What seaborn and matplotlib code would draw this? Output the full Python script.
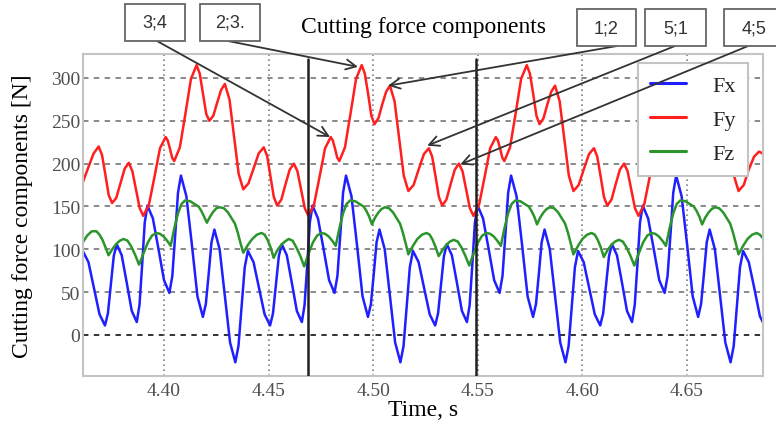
# plot.py
# Cutting force components Fx, Fy, Fz over time, redrawn with seaborn.

import pandas as pd
import matplotlib.pyplot as plt
import seaborn as sns
from matplotlib.patches import Rectangle

# Fx (blue) - time [s] and force [N]
fx_time = [
    4.3582, 4.3597, 4.3612, 4.3639, 4.3665, 4.3692, 4.3718, 4.3732, 4.3746, 4.3760,
    4.3774, 4.3798, 4.3822, 4.3846, 4.3870, 4.3883, 4.3896,
    4.3908, 4.3921, 4.3947, 4.3974, 4.4000, 4.4026, 4.4040, 4.4054, 4.4067, 4.4081,
    4.4107, 4.4134, 4.4160, 4.4186, 4.4200, 4.4214, 4.4227, 4.4241, 4.4266, 4.4291,
    4.4316, 4.4341, 4.4356, 4.4371, 4.4386, 4.4401, 4.4428, 4.4454, 4.4481, 4.4507,
    4.4521, 4.4535, 4.4549, 4.4563, 4.4587, 4.4611, 4.4635, 4.4659, 4.4672, 4.4685,
    4.4697, 4.4710, 4.4736, 4.4763, 4.4789, 4.4815, 4.4829, 4.4843, 4.4856, 4.4870,
    4.4896, 4.4923, 4.4949, 4.4975, 4.4989, 4.5003, 4.5016, 4.5030, 4.5055, 4.5080,
    4.5105, 4.5130, 4.5145, 4.5160, 4.5175, 4.5190, 4.5217, 4.5243, 4.5270, 4.5296,
    4.5310, 4.5324, 4.5338, 4.5352, 4.5376, 4.5400, 4.5424, 4.5448, 4.5461, 4.5474,
    4.5486, 4.5499, 4.5525, 4.5552, 4.5578, 4.5604, 4.5618, 4.5632, 4.5645, 4.5659,
    4.5685, 4.5712, 4.5738, 4.5764, 4.5778, 4.5792, 4.5805, 4.5819, 4.5844, 4.5869,
    4.5894, 4.5919, 4.5934, 4.5949, 4.5964, 4.5979, 4.6006, 4.6032, 4.6059, 4.6085,
    4.6099, 4.6113, 4.6127, 4.6141, 4.6165, 4.6189, 4.6213, 4.6237, 4.6250, 4.6263,
    4.6275, 4.6288, 4.6314, 4.6341, 4.6367, 4.6393, 4.6407, 4.6421, 4.6434, 4.6448,
    4.6474, 4.6501, 4.6527, 4.6553, 4.6567, 4.6581, 4.6594, 4.6608, 4.6633, 4.6658,
    4.6683, 4.6708, 4.6723, 4.6738, 4.6753, 4.6768, 4.6795, 4.6821, 4.6848, 4.6874,
]
fx_force = [
    33, 79, 98, 85, 55, 24, 11, 25, 59, 92,
    106, 93, 61, 28, 15, 35, 83,
    131, 151, 136, 100, 64, 49, 69, 118, 166, 186,
    162, 104, 45, 21, 36, 72, 108, 123, 100, 46,
    -9, -32, -13, 33, 79, 98, 85, 55, 24, 11,
    25, 59, 92, 106, 93, 61, 28, 15, 35, 83,
    131, 151, 136, 100, 64, 49, 69, 118, 166, 186,
    162, 104, 45, 21, 36, 72, 108, 123, 100, 46,
    -9, -32, -13, 33, 79, 98, 85, 55, 24, 11,
    25, 59, 92, 106, 93, 61, 28, 15, 35, 83,
    131, 151, 136, 100, 64, 49, 69, 118, 166, 186,
    162, 104, 45, 21, 36, 72, 108, 123, 100, 46,
    -9, -32, -13, 33, 79, 98, 85, 55, 24, 11,
    25, 59, 92, 106, 93, 61, 28, 15, 35, 83,
    131, 151, 136, 100, 64, 49, 69, 118, 166, 186,
    162, 104, 45, 21, 36, 72, 108, 123, 100, 46,
    -9, -32, -13, 33, 79, 98, 85, 55, 22, 9,
]

# Fy (red)
fy_time = [
    4.3568, 4.3590, 4.3615, 4.3639, 4.3664, 4.3688, 4.3704, 4.3720, 4.3736, 4.3752,
    4.3772, 4.3792, 4.3812, 4.3832, 4.3849, 4.3866, 4.3884,
    4.3901, 4.3928, 4.3955, 4.3981, 4.4008, 4.4018, 4.4029, 4.4039, 4.4049, 4.4076,
    4.4103, 4.4129, 4.4156, 4.4171, 4.4187, 4.4202, 4.4217, 4.4236, 4.4254, 4.4273,
    4.4291, 4.4313, 4.4335, 4.4357, 4.4379, 4.4404, 4.4428, 4.4453, 4.4477, 4.4493,
    4.4509, 4.4525, 4.4541, 4.4561, 4.4581, 4.4601, 4.4621, 4.4638, 4.4655, 4.4673,
    4.4690, 4.4717, 4.4744, 4.4770, 4.4797, 4.4807, 4.4818, 4.4828, 4.4838, 4.4865,
    4.4892, 4.4918, 4.4945, 4.4960, 4.4976, 4.4991, 4.5006, 4.5025, 4.5043, 4.5062,
    4.5080, 4.5102, 4.5124, 4.5146, 4.5168, 4.5193, 4.5217, 4.5242, 4.5266, 4.5282,
    4.5298, 4.5314, 4.5330, 4.5350, 4.5370, 4.5390, 4.5410, 4.5427, 4.5444, 4.5462,
    4.5479, 4.5506, 4.5533, 4.5559, 4.5586, 4.5596, 4.5607, 4.5617, 4.5627, 4.5654,
    4.5681, 4.5707, 4.5734, 4.5749, 4.5765, 4.5780, 4.5795, 4.5814, 4.5832, 4.5851,
    4.5869, 4.5891, 4.5913, 4.5935, 4.5957, 4.5982, 4.6006, 4.6031, 4.6055, 4.6071,
    4.6087, 4.6103, 4.6119, 4.6139, 4.6159, 4.6179, 4.6199, 4.6216, 4.6233, 4.6251,
    4.6268, 4.6295, 4.6322, 4.6348, 4.6375, 4.6385, 4.6396, 4.6406, 4.6416, 4.6443,
    4.6470, 4.6496, 4.6523, 4.6538, 4.6554, 4.6569, 4.6584, 4.6603, 4.6621, 4.6640,
    4.6658, 4.6680, 4.6702, 4.6724, 4.6746, 4.6771, 4.6795, 4.6820, 4.6844, 4.6860,
    4.6876, 4.6892,
]
fy_force = [
    186, 168, 180, 196, 212, 220, 210, 187, 163, 154,
    160, 177, 194, 201, 191, 170, 148,
    139, 152, 185, 218, 231, 227, 217, 207, 203, 219,
    259, 299, 315, 305, 281, 258, 250, 256, 271, 286,
    293, 275, 232, 188, 170, 177, 194, 212, 219, 209,
    185, 161, 151, 158, 176, 193, 200, 191, 170, 148,
    139, 152, 185, 218, 231, 227, 217, 207, 203, 219,
    259, 299, 315, 305, 281, 256, 246, 253, 269, 284,
    291, 273, 230, 186, 168, 175, 193, 211, 218, 208,
    185, 161, 151, 158, 176, 193, 200, 191, 170, 148,
    139, 152, 185, 218, 231, 227, 217, 207, 203, 219,
    259, 299, 315, 305, 281, 256, 246, 253, 269, 284,
    291, 273, 230, 186, 168, 175, 193, 211, 218, 208,
    185, 161, 151, 158, 176, 193, 200, 191, 170, 148,
    139, 152, 185, 218, 231, 227, 217, 207, 203, 219,
    259, 299, 311, 305, 281, 256, 246, 253, 269, 284,
    291, 273, 230, 186, 168, 175, 193, 208, 214, 212,
    205, 195,
]

# Fz (green)
fz_time = [
    4.3577, 4.3590, 4.3612, 4.3633, 4.3655, 4.3677, 4.3692, 4.3706, 4.3721, 4.3735,
    4.3753, 4.3771, 4.3789, 4.3807, 4.3826, 4.3844, 4.3863, 4.3881,
    4.3902, 4.3923, 4.3943, 4.3964, 4.3981, 4.3998, 4.4015, 4.4032, 4.4049, 4.4067,
    4.4084, 4.4101, 4.4126, 4.4151, 4.4165, 4.4178, 4.4192, 4.4205, 4.4220, 4.4236,
    4.4251, 4.4266, 4.4286, 4.4306, 4.4326, 4.4339, 4.4352, 4.4366, 4.4379, 4.4401,
    4.4422, 4.4444, 4.4466, 4.4481, 4.4495, 4.4510, 4.4524, 4.4542, 4.4560, 4.4578,
    4.4596, 4.4615, 4.4633, 4.4652, 4.4670,
    4.4691, 4.4712, 4.4732, 4.4753, 4.4770, 4.4787, 4.4804, 4.4821, 4.4838, 4.4856,
    4.4873, 4.4890, 4.4915, 4.4940, 4.4954, 4.4967, 4.4981, 4.4994, 4.5009, 4.5025,
    4.5040, 4.5055, 4.5075, 4.5095, 4.5115, 4.5128, 4.5141, 4.5155, 4.5168, 4.5190,
    4.5211, 4.5233, 4.5255, 4.5270, 4.5284, 4.5299, 4.5313, 4.5331, 4.5349, 4.5367,
    4.5385, 4.5404, 4.5422, 4.5441, 4.5459,
    4.5480, 4.5501, 4.5521, 4.5542, 4.5559, 4.5576, 4.5593, 4.5610, 4.5627, 4.5645,
    4.5662, 4.5679, 4.5704, 4.5729, 4.5743, 4.5756, 4.5770, 4.5783, 4.5798, 4.5814,
    4.5829, 4.5844, 4.5864, 4.5884, 4.5904, 4.5917, 4.5930, 4.5944, 4.5957, 4.5979,
    4.6000, 4.6022, 4.6044, 4.6059, 4.6073, 4.6088, 4.6102, 4.6120, 4.6138, 4.6156,
    4.6174, 4.6193, 4.6211, 4.6230, 4.6248,
    4.6269, 4.6290, 4.6310, 4.6331, 4.6348, 4.6365, 4.6382, 4.6399, 4.6416, 4.6434,
    4.6451, 4.6468, 4.6493, 4.6518, 4.6532, 4.6545, 4.6559, 4.6572, 4.6587, 4.6603,
    4.6618, 4.6633, 4.6653, 4.6673, 4.6693, 4.6706, 4.6719, 4.6733, 4.6746, 4.6768,
    4.6789, 4.6811, 4.6833, 4.6848, 4.6862, 4.6877,
]
fz_force = [
    107, 96, 108, 116, 121, 121, 117, 111, 102, 93,
    100, 106, 110, 112, 110, 103, 93, 82,
    95, 108, 116, 119, 118, 115, 110, 104, 124, 142,
    153, 157, 156, 152, 150, 145, 138, 131, 138, 144,
    148, 149, 148, 143, 135, 130, 120, 107, 96, 105,
    112, 117, 119, 117, 111, 102, 90, 99, 105, 109,
    112, 110, 102, 92, 80,
    95, 108, 116, 119, 118, 115, 110, 104, 124, 142,
    153, 157, 156, 152, 150, 145, 138, 129, 137, 143,
    147, 149, 148, 143, 135, 130, 120, 107, 94, 104,
    112, 117, 119, 117, 111, 102, 92, 99, 105, 109,
    111, 109, 102, 92, 81,
    95, 108, 116, 119, 118, 115, 110, 104, 124, 142,
    153, 157, 156, 152, 150, 145, 138, 129, 137, 143,
    147, 149, 148, 143, 135, 130, 120, 107, 94, 104,
    112, 117, 119, 117, 111, 102, 91, 99, 105, 109,
    111, 109, 102, 92, 81,
    95, 108, 116, 119, 118, 115, 110, 104, 124, 142,
    153, 157, 156, 152, 150, 145, 138, 129, 137, 143,
    147, 149, 148, 143, 135, 130, 120, 107, 94, 104,
    112, 117, 119, 117, 113, 108,
]

components = ['Fx', 'Fy', 'Fz']
colors = ['#1f1fff', '#ff1f1f', '#2b952b']
x_ticks = [4.40, 4.45, 4.50, 4.55, 4.60, 4.65]
y_ticks = [0, 50, 100, 150, 200, 250, 300]
marker_times = [4.469, 4.549]  # the two black vertical lines

# callout boxes: label, box edges in pixels (left, top, right, bottom), arrow start (px), arrow tip (time, force)
callouts = [
    ('3;4', (125, 5, 185, 42), (157, 42), (4.4794, 231)),
    ('2;3.', (200, 5, 260, 42), (228, 42), (4.4927, 313)),
    ('1;2', (577, 10, 636, 47), (617, 47), (4.5071, 291)),
    ('5;1', (645, 10, 706, 47), (675, 47), (4.5258, 221)),
    ('4;5', (724, 10, 784, 47), (753, 45), (4.5416, 199)),
]

W, H = 776, 427


def main():
    # long-form table for seaborn
    df = pd.concat([
        pd.DataFrame({'time': fx_time, 'force': fx_force, 'component': 'Fx'}),
        pd.DataFrame({'time': fy_time, 'force': fy_force, 'component': 'Fy'}),
        pd.DataFrame({'time': fz_time, 'force': fz_force, 'component': 'Fz'}),
    ], ignore_index=True)

    sns.set_theme(style='white')
    plt.rcParams['font.family'] = ['Liberation Serif', 'DejaVu Serif']
    plt.rcParams['lines.solid_joinstyle'] = 'round'
    plt.rcParams['lines.solid_capstyle'] = 'round'

    fig = plt.figure(figsize=(W / 100, H / 100), dpi=100)
    ax = fig.add_axes([83 / W, 1 - 377 / H, 680 / W, 322 / H])

    sns.lineplot(data=df, x='time', y='force', hue='component', hue_order=components,
                 palette=dict(zip(components, colors)), estimator=None, sort=False,
                 linewidth=1.8, ax=ax)

    ax.set_xlim(4.3613, 4.6863)
    ax.set_ylim(-48, 328)
    ax.set_xticks(x_ticks)
    ax.set_xticklabels([f'{t:.2f}' for t in x_ticks])
    ax.set_yticks(y_ticks)
    ax.tick_params(axis='both', length=0, labelsize=14, labelcolor='#4f4f4f')
    ax.tick_params(axis='x', pad=4)
    ax.tick_params(axis='y', pad=2)

    # grid: dashed horizontals, dotted verticals, dark line at zero
    ax.set_axisbelow(True)
    ax.grid(False)
    for y in y_ticks:
        c = '#222222' if y == 0 else '#808080'
        ax.axhline(y, color=c, lw=1.3, ls=(0, (3, 3)), zorder=0.5)
    for x in x_ticks:
        ax.axvline(x, color='#808080', lw=1.2, ls=(0, (1, 2)), zorder=0.5)

    for t in marker_times:
        ax.axvline(t, ymin=0, ymax=0.985, color='#202020', lw=1.8, zorder=4)

    for s in ax.spines.values():
        s.set_color('#c4c4c4')
        s.set_linewidth(1.5)

    ax.set_xlabel('Time, s', fontsize=17, color='black')
    ax.set_ylabel('Cutting force components [N]', fontsize=17, color='black')
    ax.xaxis.set_label_coords(0.5, -0.072)
    ax.yaxis.set_label_coords(-0.074, 0.5)
    fig.text(424 / W, 1 - 33 / H, 'Cutting force components', fontsize=17,
             ha='center', va='baseline', color='black')

    # legend, opaque, top right
    handles, labels = ax.get_legend_handles_labels()
    leg = ax.legend(handles, labels, loc='upper right',
                    bbox_to_anchor=(748 / W, 1 - 64 / H), bbox_transform=fig.transFigure,
                    borderaxespad=0, fontsize=16, frameon=True, fancybox=False,
                    framealpha=1, edgecolor='#c4c4c4', handlelength=1.6,
                    handletextpad=1.2, labelspacing=0.6, borderpad=0.55)
    leg.get_frame().set_linewidth(1.5)
    leg.set_zorder(5)
    for line in leg.get_lines():
        line.set_linewidth(2.2)

    # callout boxes with arrows
    for label, (x0, y0, x1, y1), (sx, sy), tip in callouts:
        fig.add_artist(Rectangle((x0 / W, 1 - y1 / H), (x1 - x0) / W, (y1 - y0) / H,
                                 transform=fig.transFigure, facecolor='white',
                                 edgecolor='#666666', lw=1.3))
        fig.text((x0 + x1) / 2 / W, 1 - (y0 + y1) / 2 / H, label, fontsize=13,
                 family=['Liberation Sans', 'DejaVu Sans'], color='#333333',
                 ha='center', va='center')
        ax.annotate('', xy=tip, xycoords='data', xytext=(sx / W, 1 - sy / H),
                    textcoords='figure fraction', annotation_clip=False,
                    arrowprops=dict(arrowstyle='->,head_length=0.6,head_width=0.3',
                                    color='#333333', lw=1.3, shrinkA=0, shrinkB=0,
                                    mutation_scale=12),
                    zorder=6)

    fig.savefig('out.png', dpi=100)


if __name__ == '__main__':
    main()
